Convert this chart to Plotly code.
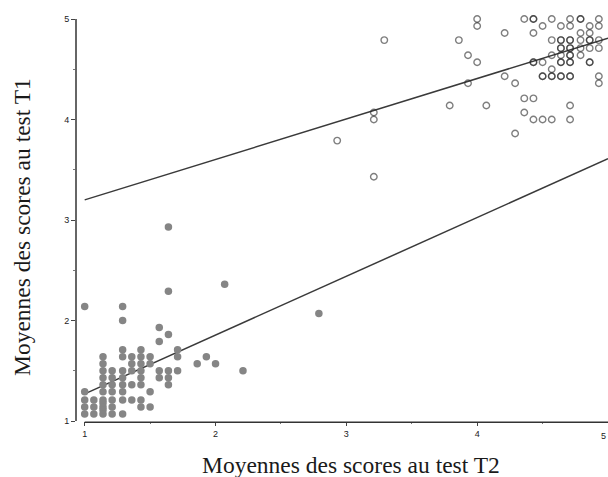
import plotly.graph_objects as go

# Group 1 (filled circles): mean scores T2 (x) and T1 (y)
g1_x = [1.00, 1.00, 1.00, 1.00, 1.00,
        1.07, 1.07, 1.07,
        1.14, 1.14, 1.14, 1.14, 1.14, 1.14, 1.14, 1.14, 1.14, 1.14, 1.14,
        1.21, 1.21, 1.21, 1.21, 1.21, 1.21, 1.21,
        1.29, 1.29, 1.29, 1.29, 1.29, 1.29, 1.29, 1.29, 1.29, 1.29,
        1.36, 1.36, 1.36, 1.36, 1.36,
        1.43, 1.43, 1.43, 1.43, 1.43, 1.43, 1.43, 1.43,
        1.50, 1.50, 1.50, 1.50,
        1.57, 1.57, 1.57, 1.57,
        1.64, 1.64, 1.64, 1.64, 1.64, 1.64,
        1.71, 1.71, 1.71,
        1.86, 1.93, 2.00, 2.07, 2.21, 2.79]
g1_y = [1.07, 1.14, 1.21, 1.29, 2.14,
        1.07, 1.14, 1.21,
        1.07, 1.11, 1.14, 1.18, 1.21, 1.29, 1.36, 1.43, 1.50, 1.57, 1.64,
        1.07, 1.14, 1.21, 1.29, 1.36, 1.43, 1.50,
        1.07, 1.21, 1.29, 1.36, 1.43, 1.50, 1.64, 1.71, 2.00, 2.14,
        1.21, 1.36, 1.50, 1.57, 1.64,
        1.14, 1.21, 1.36, 1.43, 1.50, 1.57, 1.64, 1.71,
        1.14, 1.29, 1.57, 1.64,
        1.43, 1.50, 1.79, 1.93,
        1.36, 1.43, 1.50, 1.86, 2.29, 2.93,
        1.50, 1.64, 1.71,
        1.57, 1.64, 1.57, 2.36, 1.50, 2.07]

# Group 2 (open circles)
g2_x = [2.93, 3.21, 3.21, 3.21, 3.29,
        3.79, 3.86, 3.93, 3.93, 4.00, 4.00, 4.00, 4.07,
        4.21, 4.21, 4.29, 4.29, 4.36, 4.36, 4.36,
        4.43, 4.43, 4.43, 4.43, 4.43, 4.43, 4.43,
        4.50, 4.50, 4.50, 4.50, 4.50,
        4.57, 4.57, 4.57, 4.57, 4.57, 4.57, 4.57,
        4.64, 4.64, 4.64, 4.64, 4.64, 4.64, 4.64, 4.64, 4.64, 4.64,
        4.71, 4.71, 4.71, 4.71, 4.71, 4.71, 4.71, 4.71, 4.71, 4.71, 4.71, 4.71, 4.71, 4.71,
        4.79, 4.79, 4.79, 4.79, 4.79, 4.79,
        4.86, 4.86, 4.86, 4.86, 4.86, 4.86, 4.86,
        4.93, 4.93, 4.93, 4.93, 4.93, 4.93]
g2_y = [3.79, 4.07, 4.00, 3.43, 4.79,
        4.14, 4.79, 4.64, 4.36, 5.00, 4.93, 4.57, 4.14,
        4.86, 4.43, 4.36, 3.86, 5.00, 4.21, 4.07,
        5.00, 5.00, 4.86, 4.21, 4.00, 4.57, 4.57,
        4.00, 4.57, 4.93, 4.43, 4.43,
        4.00, 5.00, 4.79, 4.64, 4.50, 4.43, 4.43,
        4.93, 4.79, 4.79, 4.71, 4.71, 4.64, 4.57, 4.57, 4.43, 4.43,
        4.00, 4.14, 5.00, 4.93, 4.79, 4.79, 4.71, 4.71, 4.64, 4.64, 4.57, 4.43, 4.43, 4.57,
        5.00, 5.00, 4.86, 4.79, 4.71, 4.64,
        4.93, 4.86, 4.79, 4.79, 4.71, 4.57, 4.57,
        5.00, 4.93, 4.79, 4.71, 4.43, 4.36]

# Regression lines (endpoints at x = 1 and x = 5)
fit_x = [1.0, 5.0]
fit_upper_y = [3.20, 4.81]
fit_lower_y = [1.27, 3.61]

tick_vals = [1, 2, 3, 4, 5]
tick_text = ["1", "2", "3", "4", "5"]
x_title = "Moyennes des scores au test T2"
y_title = "Moyennes des scores au test T1"

fig = go.Figure()
fig.add_trace(go.Scatter(x=fit_x, y=fit_upper_y, mode="lines",
                         line=dict(color="#3a3a3a", width=1.5), hoverinfo="skip"))
fig.add_trace(go.Scatter(x=fit_x, y=fit_lower_y, mode="lines",
                         line=dict(color="#3a3a3a", width=1.5), hoverinfo="skip"))
fig.add_trace(go.Scatter(x=g1_x, y=g1_y, mode="markers", cliponaxis=False,
                         marker=dict(symbol="circle", size=7.5, color="#858585",
                                     line=dict(width=0))))
fig.add_trace(go.Scatter(x=g2_x, y=g2_y, mode="markers", cliponaxis=False,
                         marker=dict(symbol="circle-open", size=6.5,
                                     color="rgba(40,40,40,0.6)",
                                     line=dict(width=1.4, color="rgba(40,40,40,0.6)"))))

axis_font = dict(family="Liberation Sans, Arial, sans-serif", size=9, color="#222")
title_font = dict(family="Liberation Serif, Times New Roman, serif", size=23.5, color="#1a1a1a")
fig.update_layout(
    width=608, height=477,
    margin=dict(l=76, r=0, t=19, b=56, pad=0),
    paper_bgcolor="white", plot_bgcolor="white",
    showlegend=False,
    xaxis=dict(range=[0.9336, 5.0], tickvals=tick_vals, ticktext=tick_text,
               showgrid=False, zeroline=False, showline=False,
               ticks="outside", ticklen=4, tickwidth=1, tickcolor="#444",
               minor=dict(tickvals=[1.5, 2.5, 3.5, 4.5], ticks="outside",
                          ticklen=2, tickcolor="#777"),
               tickfont=axis_font, fixedrange=True),
    yaxis=dict(range=[1.0, 5.0], tickvals=tick_vals, ticktext=tick_text,
               showgrid=False, zeroline=False, showline=False,
               ticks="outside", ticklen=4, tickwidth=1, tickcolor="#444",
               minor=dict(tickvals=[1.5, 2.5, 3.5, 4.5], ticks="outside",
                          ticklen=2, tickcolor="#777"),
               tickfont=axis_font, fixedrange=True),
    shapes=[
        dict(type="line", xref="x", yref="paper", x0=1, x1=5, y0=-0.003, y1=-0.003,
             line=dict(color="#333", width=1.5)),
        dict(type="line", xref="paper", yref="y", x0=0, x1=0, y0=1, y1=5,
             line=dict(color="#333", width=1.5)),
    ],
    annotations=[
        dict(text=tick_text[-1], xref="x", yref="paper", x=tick_vals[-1], y=-0.038,
             xanchor="right", yanchor="middle", showarrow=False, font=axis_font),
        dict(text=x_title, xref="paper", yref="paper", x=0.5175, y=-0.109,
             xanchor="center", yanchor="middle", showarrow=False, font=title_font),
        dict(text=y_title, xref="paper", yref="paper", x=-0.1015, y=0.4826,
             xanchor="center", yanchor="middle", showarrow=False, textangle=-90,
             font=title_font),
    ],
)

fig.write_html("out.html", config={"displayModeBar": False})
